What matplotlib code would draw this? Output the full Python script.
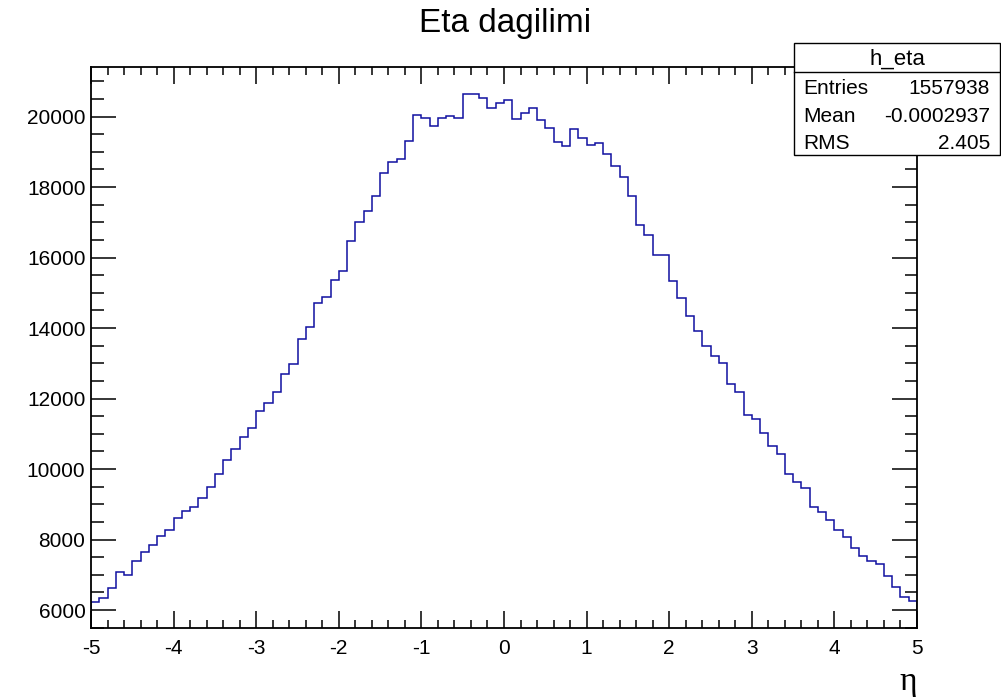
import numpy as np
import matplotlib.pyplot as plt
from matplotlib.ticker import MultipleLocator

# h_eta: 100 bins from -5 to 5
x_min = -5.0
x_max = 5.0
n_bins = 100
counts = [
    6236, 6350, 6624, 7078, 7002, 7390, 7655, 7844, 8090, 8279,
    8619, 8818, 8932, 9187, 9480, 9848, 10255, 10567, 10917, 11173,
    11636, 11883, 12186, 12697, 12990, 13690, 14030, 14712, 14872, 15374,
    15629, 16471, 17020, 17332, 17748, 18391, 18723, 18790, 19302, 20059,
    19964, 19737, 19964, 20011, 19973, 20655, 20636, 20522, 20239, 20399,
    20475, 19926, 20097, 20248, 19907, 19681, 19283, 19169, 19662, 19381,
    19201, 19263, 18940, 18600, 18288, 17740, 16934, 16642, 16082, 16064,
    15327, 14862, 14343, 13930, 13500, 13217, 12999, 12414, 12177, 11531,
    11416, 11032, 10654, 10436, 9868, 9641, 9471, 8923, 8772, 8562,
    8279, 8072, 7750, 7541, 7399, 7297, 6965, 6661, 6360, 6264,
]
stat_names = ["Entries", "Mean", "RMS"]
stat_values = ["1557938", "-0.0002937", "2.405"]

edges = np.linspace(x_min, x_max, n_bins + 1)

plt.rcParams['font.family'] = ['Liberation Sans', 'DejaVu Sans']
plt.rcParams['axes.unicode_minus'] = False

fig = plt.figure(figsize=(10.01, 6.97), dpi=100)
ax = fig.add_axes([91 / 1001, 1 - 627.7 / 697, 826 / 1001, 561 / 697])

ax.stairs(counts, edges, color='#1010a0', linewidth=1.1)

ax.set_xlim(x_min, x_max)
ax.set_ylim(5498, 21417)

ax.xaxis.set_major_locator(MultipleLocator(1))
ax.xaxis.set_minor_locator(MultipleLocator(0.2))
ax.yaxis.set_major_locator(MultipleLocator(2000))
ax.yaxis.set_minor_locator(MultipleLocator(500))

for s in ax.spines.values():
    s.set_linewidth(1.3)

ax.tick_params(which='both', direction='in', top=True, right=True, width=1.1)
ax.tick_params(axis='x', which='major', length=12.5, labelsize=15, pad=8)
ax.tick_params(axis='x', which='minor', length=6)
ax.tick_params(axis='y', which='major', length=18, labelsize=15, pad=4)
ax.tick_params(axis='y', which='minor', length=9)

# title
fig.text(505 / 1001, 1 - 32.3 / 697, "Eta dagilimi", ha='center', va='baseline', fontsize=24)

# axis title (eta), right aligned at end of axis
fig.text(917 / 1001, 1 - 690 / 697, "\u03b7", ha='right', va='baseline',
         fontsize=24, family=['Liberation Serif', 'DejaVu Serif'])

# stats box
bx0, bx1 = 794 / 1001, 1000 / 1001
by0, by1 = 1 - 155 / 697, 1 - 42.7 / 697
box = plt.Rectangle((bx0, by0), bx1 - bx0, by1 - by0, transform=fig.transFigure,
                    facecolor='white', edgecolor='black', linewidth=1.0, zorder=5)
fig.add_artist(box)
sep = plt.Line2D([bx0, bx1], [1 - 71.7 / 697] * 2, transform=fig.transFigure,
                 color='black', linewidth=1.0, zorder=6)
fig.add_artist(sep)
fig.text((bx0 + bx1) / 2, 1 - 64.3 / 697, "h_eta", ha='center', va='baseline',
         fontsize=16, zorder=7)
for i in range(len(stat_names)):
    yb = 1 - (94.3 + i * 27.35) / 697
    fig.text(803 / 1001, yb, stat_names[i], ha='left', va='baseline', fontsize=15, zorder=7)
    fig.text(990 / 1001, yb, stat_values[i], ha='right', va='baseline', fontsize=15, zorder=7)

fig.savefig('out.png', dpi=100)
